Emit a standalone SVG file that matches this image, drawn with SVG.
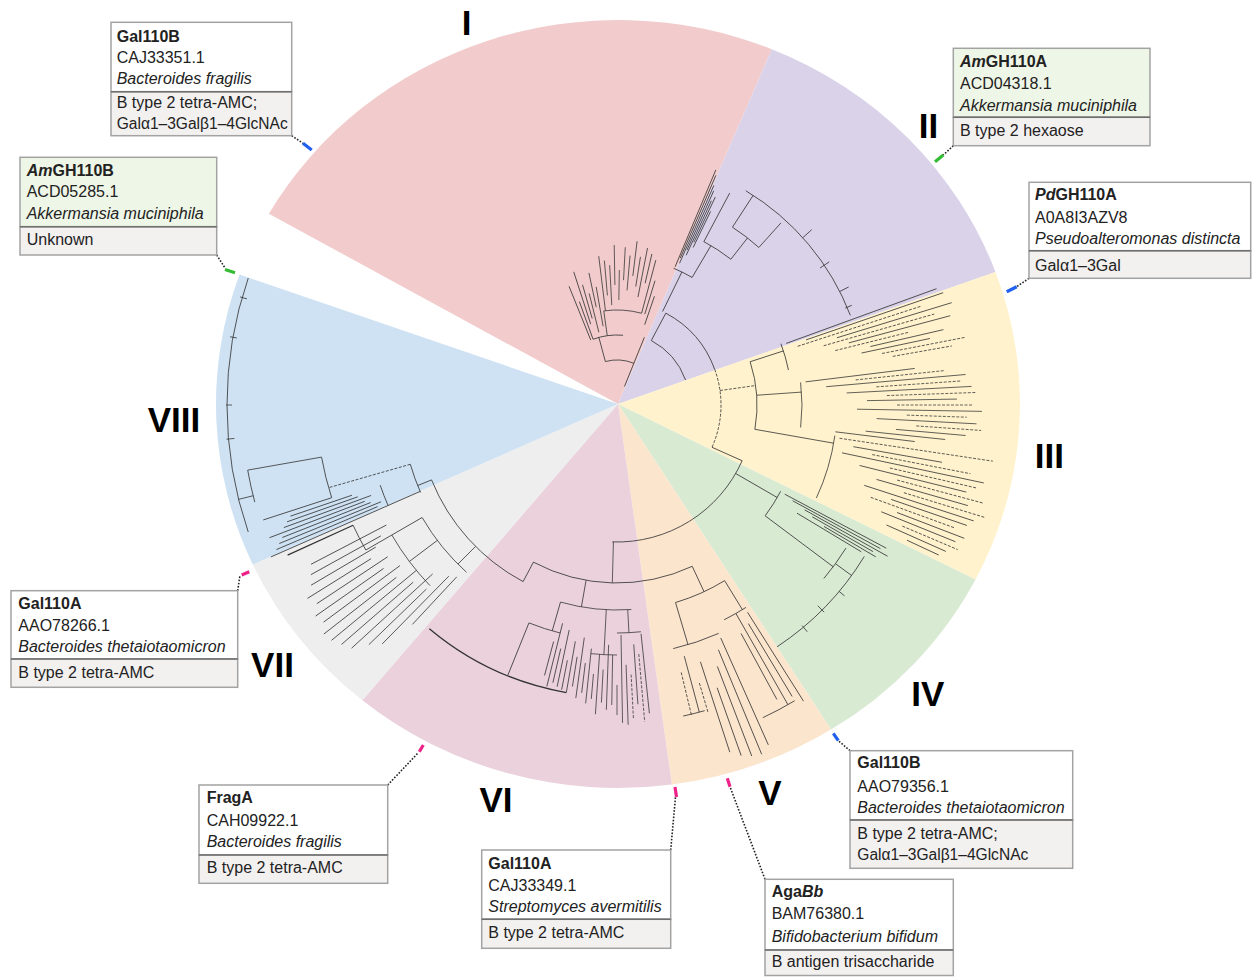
<svg xmlns="http://www.w3.org/2000/svg" width="1252" height="977" viewBox="0 0 1252 977">
<style>
.t{font-family:"Liberation Sans",Arial,sans-serif;font-size:16px;fill:#222}
.bd{font-weight:bold}
.it{font-style:italic}
.rn{font-family:"Liberation Sans",Arial,sans-serif;font-size:35px;font-weight:bold;fill:#000;text-anchor:middle}
.bx{stroke:#a3a3a3;stroke-width:1.5}
.top{fill:#ffffff}
.grn{fill:#eef6e7}
.bot{fill:#f3f0f0}
.dv{stroke:#6f6f6f;stroke-width:1.5}
.b{fill:none;stroke:#333;stroke-width:0.75}
.d{fill:none;stroke:#333;stroke-width:0.75;stroke-dasharray:3 1.5}
.dot{fill:none;stroke:#222;stroke-width:1.6;stroke-dasharray:1.6 1.6}
.mk{stroke-width:3.2;stroke-linecap:butt}
</style>
<rect width="1252" height="977" fill="#ffffff"/>
<g id="sectors">
<path d="M618,404 L268.8,213.7 A402,384 0 0 1 771.8,49.2 Z" fill="#f2cccc"/>
<path d="M618,404 L771.8,49.2 A402,384 0 0 1 995.5,272 Z" fill="#d9d2e9"/>
<path d="M618,404 L995.5,272 A402,384 0 0 1 975.5,579.5 Z" fill="#fff2cc"/>
<path d="M618,404 L975.5,579.5 A402,384 0 0 1 831,729.6 Z" fill="#d9ead3"/>
<path d="M618,404 L831,729.6 A402,384 0 0 1 671.9,784.5 Z" fill="#fce5cd"/>
<path d="M618,404 L671.9,784.5 A402,384 0 0 1 362.3,700.3 Z" fill="#ead1dc"/>
<path d="M618,404 L362.3,700.3 A402,384 0 0 1 252.8,564.5 Z" fill="#eeeeee"/>
<path d="M618,404 L252.8,564.5 A402,384 0 0 1 239.5,274.6 Z" fill="#cfe2f3"/>
</g>
<g id="tree" transform="translate(617,405)">
<!-- backbone -->
<circle class="b" r="73" pathLength="360" stroke-dasharray="42 400" transform="rotate(298)"/>
<circle class="b" r="104" pathLength="360" stroke-dasharray="42 400" transform="rotate(298)"/>
<path class="d" d="M104,0 A104,104 0 0 1 74.81,72.25" transform="rotate(340)"/>
<circle class="b" r="137" pathLength="360" stroke-dasharray="68 400" transform="rotate(24)"/>
<circle class="b" r="178" pathLength="360" stroke-dasharray="53 400" transform="rotate(65)"/>
<circle class="b" r="200" pathLength="360" stroke-dasharray="40 400" transform="rotate(118)"/>
<line class="b" x1="20" x2="73" transform="rotate(292)"/>
<line class="b" x1="73" x2="104" transform="rotate(298)"/>
<line class="b" x1="104" x2="137" transform="rotate(24)"/>
<line class="b" x1="137" x2="178" transform="rotate(91.5)"/>
<line class="b" x1="178" x2="200" transform="rotate(118)"/>
<!-- clade I -->
<circle class="b" r="45" pathLength="360" stroke-dasharray="37 400" transform="rotate(255)"/>
<circle class="b" r="70" pathLength="360" stroke-dasharray="25 400" transform="rotate(250)"/>
<circle class="b" r="95" pathLength="360" stroke-dasharray="23 400" transform="rotate(262)"/>
<line class="b" x1="45" x2="70" transform="rotate(255)"/>
<line class="b" x1="70" x2="95" transform="rotate(262)"/>
<line class="b" x1="95" x2="110" transform="rotate(285)"/>
<line class="b" x1="70" x2="128" transform="rotate(248)"/>
<line class="b" x1="70" x2="110" transform="rotate(250)"/>
<line class="b" x1="85" x2="140" transform="rotate(252)"/>
<line class="b" x1="90" x2="125" transform="rotate(254)"/>
<line class="b" x1="75" x2="115" transform="rotate(256)"/>
<line class="b" x1="100" x2="135" transform="rotate(258)"/>
<line class="b" x1="80" x2="120" transform="rotate(260)"/>
<line class="b" x1="95" x2="150" transform="rotate(263)"/>
<line class="b" x1="110" x2="145" transform="rotate(265)"/>
<line class="b" x1="100" x2="140" transform="rotate(267)"/>
<line class="b" x1="120" x2="160" transform="rotate(269)"/>
<line class="b" x1="105" x2="135" transform="rotate(271)"/>
<line class="b" x1="125" x2="158" transform="rotate(273)"/>
<line class="b" x1="115" x2="150" transform="rotate(275)"/>
<line class="b" x1="130" x2="165" transform="rotate(277)"/>
<line class="b" x1="120" x2="150" transform="rotate(279)"/>
<line class="b" x1="110" x2="160" transform="rotate(281)"/>
<line class="b" x1="125" x2="155" transform="rotate(283)"/>
<line class="b" x1="110" x2="150" transform="rotate(285)"/>
<line class="b" x1="95" x2="130" transform="rotate(287)"/>
<line class="b" x1="85" x2="115" transform="rotate(289)"/>
<!-- clade II -->
<line class="b" x1="104" x2="148" transform="rotate(296)"/>
<circle class="b" r="148" pathLength="360" stroke-dasharray="8 400" transform="rotate(292.5)"/>
<line class="b" x1="150" x2="255" transform="rotate(292.8)"/>
<line class="b" x1="160" x2="250" transform="rotate(293.3)"/>
<line class="b" x1="155" x2="240" transform="rotate(293.8)"/>
<line class="b" x1="170" x2="235" transform="rotate(294.3)"/>
<line class="b" x1="165" x2="225" transform="rotate(294.8)"/>
<line class="b" x1="180" x2="230" transform="rotate(295.3)"/>
<line class="b" x1="175" x2="215" transform="rotate(295.8)"/>
<line class="b" x1="148" x2="185" transform="rotate(300.5)"/>
<circle class="b" r="185" pathLength="360" stroke-dasharray="10 400" transform="rotate(298)"/>
<line class="b" x1="185" x2="240" transform="rotate(298)"/>
<line class="b" x1="185" x2="212" transform="rotate(308)"/>
<circle class="b" r="212" pathLength="360" stroke-dasharray="9 400" transform="rotate(303)"/>
<line class="b" x1="212" x2="250" transform="rotate(303)"/>
<line class="b" x1="212" x2="245" transform="rotate(312)"/>
<circle class="b" r="250" pathLength="360" stroke-dasharray="38 400" transform="rotate(301)"/>
<line class="b" x1="250" x2="262" transform="rotate(318)"/>
<line class="b" x1="245" x2="256" transform="rotate(326)"/>
<line class="b" x1="250" x2="260" transform="rotate(333)"/>
<line class="b" x1="248" x2="255" transform="rotate(337)"/>
<!-- clade III -->
<line class="d" x1="104" x2="140" transform="rotate(352)"/>
<circle class="b" r="140" pathLength="360" stroke-dasharray="28 400" transform="rotate(342)"/>
<line class="b" x1="140" x2="175" transform="rotate(342)"/>
<circle class="b" r="175" pathLength="360" stroke-dasharray="9 400" transform="rotate(339.5)"/>
<line class="b" x1="180" x2="340" transform="rotate(340)"/>
<line class="b" x1="200" x2="345" transform="rotate(341)"/>
<line class="d" x1="190" x2="320" transform="rotate(342)"/>
<line class="b" x1="230" x2="350" transform="rotate(343)"/>
<line class="d" x1="215" x2="330" transform="rotate(344)"/>
<line class="b" x1="240" x2="345" transform="rotate(345)"/>
<line class="d" x1="225" x2="300" transform="rotate(346)"/>
<line class="b" x1="260" x2="335" transform="rotate(347)"/>
<line class="b" x1="250" x2="320" transform="rotate(348)"/>
<line class="d" x1="270" x2="355" transform="rotate(349)"/>
<line class="d" x1="280" x2="340" transform="rotate(350)"/>
<line class="b" x1="140" x2="185" transform="rotate(356)"/>
<circle class="b" r="185" pathLength="360" stroke-dasharray="14 400" transform="rotate(353)"/>
<line class="b" x1="190" x2="300" transform="rotate(353)"/>
<line class="d" x1="240" x2="330" transform="rotate(354)"/>
<line class="b" x1="210" x2="350" transform="rotate(355)"/>
<line class="d" x1="260" x2="345" transform="rotate(356)"/>
<line class="b" x1="230" x2="355" transform="rotate(357)"/>
<line class="d" x1="270" x2="360" transform="rotate(358)"/>
<line class="b" x1="250" x2="340" transform="rotate(359)"/>
<line class="d" x1="280" x2="355" transform="rotate(0)"/>
<line class="b" x1="240" x2="365" transform="rotate(1)"/>
<line class="d" x1="290" x2="350" transform="rotate(2)"/>
<line class="b" x1="260" x2="360" transform="rotate(3)"/>
<line class="d" x1="300" x2="365" transform="rotate(4)"/>
<line class="b" x1="280" x2="350" transform="rotate(5)"/>
<line class="b" x1="250" x2="330" transform="rotate(6)"/>
<line class="b" x1="220" x2="300" transform="rotate(7)"/>
<line class="b" x1="140" x2="220" transform="rotate(10)"/>
<circle class="b" r="220" pathLength="360" stroke-dasharray="17 400" transform="rotate(8)"/>
<line class="d" x1="225" x2="380" transform="rotate(8.5)"/>
<line class="b" x1="240" x2="330" transform="rotate(10)"/>
<line class="d" x1="260" x2="360" transform="rotate(11)"/>
<line class="b" x1="230" x2="375" transform="rotate(12)"/>
<line class="d" x1="280" x2="370" transform="rotate(13)"/>
<line class="b" x1="250" x2="360" transform="rotate(14)"/>
<line class="d" x1="290" x2="380" transform="rotate(15)"/>
<line class="b" x1="270" x2="365" transform="rotate(16)"/>
<line class="d" x1="300" x2="385" transform="rotate(17)"/>
<line class="b" x1="260" x2="375" transform="rotate(18)"/>
<line class="b" x1="290" x2="370" transform="rotate(19)"/>
<line class="d" x1="270" x2="360" transform="rotate(20)"/>
<line class="b" x1="300" x2="372" transform="rotate(21)"/>
<line class="b" x1="285" x2="365" transform="rotate(22)"/>
<line class="d" x1="310" x2="370" transform="rotate(23)"/>
<line class="b" x1="295" x2="360" transform="rotate(24)"/>
<line class="b" x1="320" x2="355" transform="rotate(25)"/>
<!-- clade IV -->
<line class="b" x1="137" x2="185" transform="rotate(30)"/>
<circle class="b" r="185" pathLength="360" stroke-dasharray="9 400" transform="rotate(27.8)"/>
<line class="b" x1="190" x2="305" transform="rotate(28)"/>
<line class="b" x1="200" x2="300" transform="rotate(28.6)"/>
<line class="b" x1="215" x2="310" transform="rotate(29.2)"/>
<line class="b" x1="225" x2="295" transform="rotate(29.8)"/>
<line class="b" x1="240" x2="300" transform="rotate(30.4)"/>
<line class="b" x1="210" x2="285" transform="rotate(31)"/>
<line class="b" x1="185" x2="270" transform="rotate(36.8)"/>
<circle class="b" r="270" pathLength="360" stroke-dasharray="8 400" transform="rotate(32)"/>
<line class="b" x1="270" x2="290" transform="rotate(36)"/>
<circle class="b" r="290" pathLength="360" stroke-dasharray="25 400" transform="rotate(31.5)"/>
<line class="b" x1="290" x2="297" transform="rotate(40)"/>
<line class="b" x1="284" x2="293" transform="rotate(45)"/>
<line class="b" x1="288" x2="296" transform="rotate(50)"/>
<!-- clade V -->
<line class="b" x1="178" x2="206" transform="rotate(65)"/>
<circle class="b" r="206" pathLength="360" stroke-dasharray="15 400" transform="rotate(58.5)"/>
<line class="b" x1="206" x2="240" transform="rotate(58.5)"/>
<circle class="b" r="240" pathLength="360" stroke-dasharray="6 400" transform="rotate(57.5)"/>
<line class="b" x1="245" x2="350" transform="rotate(57.8)"/>
<line class="b" x1="255" x2="340" transform="rotate(59)"/>
<line class="b" x1="240" x2="345" transform="rotate(60.3)"/>
<line class="b" x1="260" x2="335" transform="rotate(61.5)"/>
<circle class="b" r="345" pathLength="360" stroke-dasharray="6 400" transform="rotate(59)"/>
<line class="b" x1="206" x2="250" transform="rotate(73.5)"/>
<circle class="b" r="250" pathLength="360" stroke-dasharray="11 400" transform="rotate(66)"/>
<line class="b" x1="255" x2="372" transform="rotate(66)"/>
<line class="b" x1="265" x2="378" transform="rotate(67.5)"/>
<line class="b" x1="280" x2="376" transform="rotate(69)"/>
<line class="b" x1="300" x2="372" transform="rotate(70.5)"/>
<line class="b" x1="270" x2="365" transform="rotate(72)"/>
<line class="d" x1="290" x2="320" transform="rotate(73.5)"/>
<line class="b" x1="260" x2="318" transform="rotate(75)"/>
<line class="d" x1="275" x2="320" transform="rotate(76.5)"/>
<circle class="b" r="318" pathLength="360" stroke-dasharray="4 400" transform="rotate(74)"/>
<!-- clade VI -->
<line class="b" x1="178" x2="205" transform="rotate(100)"/>
<circle class="b" r="205" pathLength="360" stroke-dasharray="20 400" transform="rotate(86)"/>
<circle class="b" r="228" pathLength="360" stroke-dasharray="6 400" transform="rotate(84)"/>
<circle class="b" r="250" pathLength="360" stroke-dasharray="6 400" transform="rotate(90)"/>
<line class="b" x1="205" x2="228" transform="rotate(87)"/>
<line class="b" x1="205" x2="250" transform="rotate(93)"/>
<line class="b" x1="230" x2="310" transform="rotate(84)"/>
<line class="d" x1="250" x2="318" transform="rotate(85)"/>
<line class="b" x1="240" x2="300" transform="rotate(86)"/>
<line class="d" x1="270" x2="315" transform="rotate(87)"/>
<line class="b" x1="260" x2="320" transform="rotate(88)"/>
<line class="b" x1="230" x2="318" transform="rotate(89)"/>
<line class="b" x1="280" x2="310" transform="rotate(90)"/>
<line class="b" x1="250" x2="300" transform="rotate(91)"/>
<line class="b" x1="240" x2="305" transform="rotate(92)"/>
<line class="b" x1="265" x2="298" transform="rotate(93)"/>
<line class="b" x1="250" x2="310" transform="rotate(94)"/>
<line class="b" x1="270" x2="295" transform="rotate(95)"/>
<line class="b" x1="245" x2="300" transform="rotate(96)"/>
<line class="b" x1="260" x2="290" transform="rotate(97)"/>
<line class="b" x1="235" x2="296" transform="rotate(98)"/>
<line class="b" x1="255" x2="285" transform="rotate(99)"/>
<line class="b" x1="240" x2="292" transform="rotate(100)"/>
<line class="b" x1="260" x2="290" transform="rotate(101)"/>
<line class="b" x1="230" x2="288" transform="rotate(102)"/>
<line class="b" x1="250" x2="285" transform="rotate(103)"/>
<line class="b" x1="225" x2="290" transform="rotate(104)"/>
<line class="b" x1="245" x2="280" transform="rotate(105)"/>
<line class="b" x1="205" x2="235" transform="rotate(106)"/>
<circle class="b" r="235" pathLength="360" stroke-dasharray="8 400" transform="rotate(104)"/>
<line class="b" x1="235" x2="292" transform="rotate(112)"/>
<circle fill="none" stroke="#333" stroke-width="1.3" r="292" pathLength="360" stroke-dasharray="30 400" transform="rotate(100)"/>
<!-- clade VII -->
<line class="b" x1="200" x2="225" transform="rotate(135)"/>
<circle class="b" r="225" pathLength="360" stroke-dasharray="18 400" transform="rotate(132)"/>
<line class="b" x1="225" x2="260" transform="rotate(143)"/>
<circle class="b" r="260" pathLength="360" stroke-dasharray="14 400" transform="rotate(136)"/>
<line class="b" x1="235" x2="300" transform="rotate(133)"/>
<line class="b" x1="240" x2="335" transform="rotate(134.5)"/>
<line class="b" x1="265" x2="345" transform="rotate(136)"/>
<line class="b" x1="250" x2="360" transform="rotate(137.5)"/>
<line class="b" x1="270" x2="365" transform="rotate(139)"/>
<line class="b" x1="260" x2="370" transform="rotate(140.5)"/>
<line class="b" x1="280" x2="372" transform="rotate(142)"/>
<line class="b" x1="270" x2="365" transform="rotate(143.5)"/>
<line class="b" x1="285" x2="368" transform="rotate(145)"/>
<line class="b" x1="275" x2="360" transform="rotate(146.5)"/>
<line class="b" x1="290" x2="365" transform="rotate(148)"/>
<line class="b" x1="280" x2="355" transform="rotate(149.5)"/>
<line class="b" x1="225" x2="290" transform="rotate(150)"/>
<circle class="b" r="290" pathLength="360" stroke-dasharray="5.5 400" transform="rotate(150)"/>
<line class="b" x1="270" x2="350" transform="rotate(151)"/>
<line class="b" x1="260" x2="345" transform="rotate(152.5)"/>
<line fill="none" stroke="#333" stroke-width="1.2" x1="290" x2="362" transform="rotate(155.5)"/>
<!-- clade VIII -->
<line class="b" x1="200" x2="215" transform="rotate(158)"/>
<circle class="b" r="215" pathLength="360" stroke-dasharray="8 400" transform="rotate(156)"/>
<line class="b" x1="215" x2="250" transform="rotate(156.3)"/>
<circle class="b" r="250" pathLength="360" stroke-dasharray="5 400" transform="rotate(156.3)"/>
<line class="b" x1="250" x2="378" transform="rotate(156.3)"/>
<line class="b" x1="260" x2="370" transform="rotate(157)"/>
<line class="b" x1="255" x2="365" transform="rotate(157.7)"/>
<line class="b" x1="265" x2="360" transform="rotate(158.4)"/>
<line class="b" x1="270" x2="372" transform="rotate(159.1)"/>
<line class="b" x1="262" x2="355" transform="rotate(159.8)"/>
<line class="b" x1="275" x2="350" transform="rotate(160.5)"/>
<line class="b" x1="280" x2="345" transform="rotate(161.2)"/>
<line class="d" x1="215" x2="300" transform="rotate(164)"/>
<circle class="b" r="300" pathLength="360" stroke-dasharray="8 400" transform="rotate(162)"/>
<line class="b" x1="300" x2="372" transform="rotate(162)"/>
<line class="b" x1="300" x2="375" transform="rotate(170)"/>
<circle class="b" r="375" pathLength="360" stroke-dasharray="5 400" transform="rotate(165)"/>
<line class="b" x1="375" x2="390" transform="rotate(166)"/>
<circle class="b" r="390" pathLength="360" stroke-dasharray="38 400" transform="rotate(161)"/>
<line class="b" x1="384" x2="392" transform="rotate(175)"/>
<line class="b" x1="385" x2="391" transform="rotate(180)"/>
<line class="b" x1="386" x2="393" transform="rotate(190)"/>
<line class="b" x1="385" x2="392" transform="rotate(196)"/>
</g>
<g id="connectors">
<line class="dot" x1="291.7" y1="135.7" x2="303" y2="143.3"/>
<line class="mk" x1="303" y1="143.3" x2="311.7" y2="150" stroke="#2060ee"/>
<line class="dot" x1="216.7" y1="255" x2="225" y2="268"/>
<line class="mk" x1="225" y1="269.5" x2="235" y2="272.7" stroke="#33bb33"/>
<line class="dot" x1="953.3" y1="145.7" x2="943.3" y2="155"/>
<line class="mk" x1="943.3" y1="155" x2="935" y2="161.7" stroke="#33bb33"/>
<line class="dot" x1="1029" y1="278.3" x2="1016.7" y2="286.7"/>
<line class="mk" x1="1016.7" y1="286.7" x2="1006.7" y2="291.7" stroke="#2060ee"/>
<line class="dot" x1="237.7" y1="590.7" x2="240" y2="575"/>
<line class="mk" x1="241.7" y1="575" x2="249.3" y2="571.7" stroke="#ee2288"/>
<line class="dot" x1="387.7" y1="785" x2="418" y2="753"/>
<line class="mk" x1="419.3" y1="751.7" x2="423.3" y2="745" stroke="#ee2288"/>
<line class="dot" x1="670.7" y1="850" x2="675.5" y2="797"/>
<line class="mk" x1="675" y1="787" x2="676.5" y2="797" stroke="#ee2288"/>
<line class="dot" x1="765" y1="879.3" x2="730" y2="786.7"/>
<line class="mk" x1="730" y1="786.7" x2="727.3" y2="778.3" stroke="#ee2288"/>
<line class="dot" x1="850" y1="750.7" x2="838.3" y2="740.7"/>
<line class="mk" x1="838.3" y1="740.7" x2="833.3" y2="733.3" stroke="#2060ee"/>
</g>
<g id="labels">
<text class="rn" x="466.5" y="35">I</text>
<text class="rn" x="928.5" y="138">II</text>
<text class="rn" x="1049.3" y="468">III</text>
<text class="rn" x="927.8" y="705.5">IV</text>
<text class="rn" x="770" y="805">V</text>
<text class="rn" x="496" y="812">VI</text>
<text class="rn" x="272.5" y="677">VII</text>
<text class="rn" x="174" y="431.5">VIII</text>
</g>
<g id="box-gal110b-bf">
<rect class="bx top" x="111" y="22.3" width="180.7" height="69.4"/>
<rect class="bx bot" x="111" y="91.7" width="180.7" height="44"/>
<line class="dv" x1="111" y1="91.7" x2="291.7" y2="91.7"/>
<text class="t bd" x="116.7" y="41.7">Gal110B</text>
<text class="t" x="116.7" y="63.3">CAJ33351.1</text>
<text class="t it" x="116.7" y="84">Bacteroides fragilis</text>
<text class="t" x="116.7" y="108.3">B type 2 tetra-AMC;</text>
<text class="t" x="116.7" y="128.5" textLength="171" lengthAdjust="spacingAndGlyphs">Galα1–3Galβ1–4GlcNAc</text>
</g>
<g id="box-amgh110b">
<rect class="bx grn" x="20" y="157.3" width="196.7" height="69.4"/>
<rect class="bx bot" x="20" y="226.7" width="196.7" height="28.3"/>
<line class="dv" x1="20" y1="226.7" x2="216.7" y2="226.7"/>
<text class="t bd" x="26.7" y="176"><tspan class="it">Am</tspan>GH110B</text>
<text class="t" x="26.7" y="197">ACD05285.1</text>
<text class="t it" x="26.7" y="219">Akkermansia muciniphila</text>
<text class="t" x="26.7" y="245">Unknown</text>
</g>
<g id="box-amgh110a">
<rect class="bx grn" x="953.3" y="48.3" width="196.7" height="69"/>
<rect class="bx bot" x="953.3" y="117.3" width="196.7" height="28.4"/>
<line class="dv" x1="953.3" y1="117.3" x2="1150" y2="117.3"/>
<text class="t bd" x="960" y="66.7"><tspan class="it">Am</tspan>GH110A</text>
<text class="t" x="960" y="89.3">ACD04318.1</text>
<text class="t it" x="960" y="111">Akkermansia muciniphila</text>
<text class="t" x="960" y="136">B type 2 hexaose</text>
</g>
<g id="box-pdgh110a">
<rect class="bx top" x="1029" y="182.3" width="221.7" height="68.4"/>
<rect class="bx bot" x="1029" y="250.7" width="221.7" height="27.6"/>
<line class="dv" x1="1029" y1="250.7" x2="1250.7" y2="250.7"/>
<text class="t bd" x="1035" y="199.5"><tspan class="it">Pd</tspan>GH110A</text>
<text class="t" x="1035" y="222.5">A0A8I3AZV8</text>
<text class="t it" x="1035" y="244">Pseudoalteromonas distincta</text>
<text class="t" x="1035" y="271">Galα1–3Gal</text>
</g>
<g id="box-gal110a-bt">
<rect class="bx top" x="11" y="590.7" width="226.7" height="68.3"/>
<rect class="bx bot" x="11" y="659" width="226.7" height="28.3"/>
<line class="dv" x1="11" y1="659" x2="237.7" y2="659"/>
<text class="t bd" x="18.3" y="608.5">Gal110A</text>
<text class="t" x="18.3" y="630.7">AAO78266.1</text>
<text class="t it" x="18.3" y="652">Bacteroides thetaiotaomicron</text>
<text class="t" x="18.3" y="678.3">B type 2 tetra-AMC</text>
</g>
<g id="box-fraga">
<rect class="bx top" x="199" y="785" width="188.7" height="70"/>
<rect class="bx bot" x="199" y="855" width="188.7" height="28.3"/>
<line class="dv" x1="199" y1="855" x2="387.7" y2="855"/>
<text class="t bd" x="206.7" y="803.3">FragA</text>
<text class="t" x="206.7" y="826">CAH09922.1</text>
<text class="t it" x="206.7" y="847.3">Bacteroides fragilis</text>
<text class="t" x="206.7" y="873.3">B type 2 tetra-AMC</text>
</g>
<g id="box-gal110a-sa">
<rect class="bx top" x="481.7" y="850" width="189" height="69.3"/>
<rect class="bx bot" x="481.7" y="919.3" width="189" height="29"/>
<line class="dv" x1="481.7" y1="919.3" x2="670.7" y2="919.3"/>
<text class="t bd" x="488.3" y="869.3">Gal110A</text>
<text class="t" x="488.3" y="890.7">CAJ33349.1</text>
<text class="t it" x="488.3" y="912.3">Streptomyces avermitilis</text>
<text class="t" x="488.3" y="938.3">B type 2 tetra-AMC</text>
</g>
<g id="box-agabb">
<rect class="bx top" x="765" y="879.3" width="188.3" height="70.7"/>
<rect class="bx bot" x="765" y="950" width="188.3" height="25.5"/>
<line class="dv" x1="765" y1="950" x2="953.3" y2="950"/>
<text class="t bd" x="771.7" y="897.3">Aga<tspan class="it">Bb</tspan></text>
<text class="t" x="771.7" y="919.3">BAM76380.1</text>
<text class="t it" x="771.7" y="941.5">Bifidobacterium bifidum</text>
<text class="t" x="771.7" y="967">B antigen trisaccharide</text>
</g>
<g id="box-gal110b-bt">
<rect class="bx top" x="850" y="750.7" width="222.7" height="69.3"/>
<rect class="bx bot" x="850" y="820" width="222.7" height="48.3"/>
<line class="dv" x1="850" y1="820" x2="1072.7" y2="820"/>
<text class="t bd" x="857.3" y="768.3">Gal110B</text>
<text class="t" x="857.3" y="791.7">AAO79356.1</text>
<text class="t it" x="857.3" y="813.3">Bacteroides thetaiotaomicron</text>
<text class="t" x="857.3" y="838.5">B type 2 tetra-AMC;</text>
<text class="t" x="857.3" y="859.5" textLength="171" lengthAdjust="spacingAndGlyphs">Galα1–3Galβ1–4GlcNAc</text>
</g>
</svg>
